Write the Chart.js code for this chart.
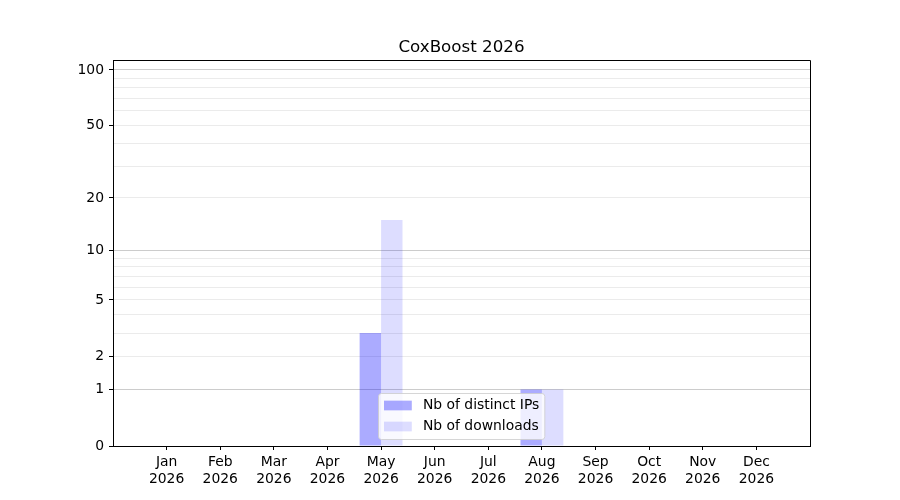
<!DOCTYPE html>
<html>
<head>
<meta charset="utf-8">
<script src="https://cdn.jsdelivr.net/npm/chart.js@4.4.1/dist/chart.umd.min.js"></script>
<style>
  html, body { margin: 0; padding: 0; background: #fff; }
  canvas { display: block; }
</style>
</head>
<body>
<canvas id="chart" width="900" height="500"></canvas>
<script>
// data
var months = ['Jan','Feb','Mar','Apr','May','Jun','Jul','Aug','Sep','Oct','Nov','Dec'];
var year = '2026';
var ips = [0,0,0,0,3,0,0,1,0,0,0,0];
var downloads = [0,0,0,0,15,0,0,1,0,0,0,0];
var yLabels = [0,1,2,5,10,20,50,100];
var yMinor = [3,4,6,7,8,9,30,40,60,70,80,90];
var yMajor = [1,10,100];
var yMax = 113;

var font = 'DejaVu Sans';

// y axis is log10(1 + v)
function f(v) { return Math.log10(1 + v); }

class Log1pScale extends Chart.LinearScale {
  buildTicks() {
    var all = yLabels.concat(yMinor).sort(function(a, b) { return a - b; });
    return all.map(function(v) { return { value: v }; });
  }
  configure() {
    super.configure();
    this._startValue = f(this.min);
    this._endValue = f(this.max);
    this._valueRange = this._endValue - this._startValue;
  }
  getPixelForValue(value) {
    if (value === null || isNaN(value)) return NaN;
    return this.getPixelForDecimal((f(value) - this._startValue) / this._valueRange);
  }
  getValueForPixel(pixel) {
    return Math.pow(10, this._startValue + this.getDecimalForPixel(pixel) * this._valueRange) - 1;
  }
}
Log1pScale.id = 'log1p';
Log1pScale.defaults = Chart.LinearScale.defaults;
Chart.register(Log1pScale);

// frame on top and right + legend inside the plot
var framePlugin = {
  id: 'frame',
  afterDraw: function(chart) {
    var ctx = chart.ctx, a = chart.chartArea;
    ctx.save();
    ctx.strokeStyle = '#000';
    ctx.lineWidth = 1;
    ctx.beginPath();
    ctx.moveTo(Math.round(a.left) + 0.5, Math.round(a.top) + 0.5);
    ctx.lineTo(Math.round(a.right) + 0.5, Math.round(a.top) + 0.5);
    ctx.lineTo(Math.round(a.right) + 0.5, Math.round(a.bottom) + 0.5);
    ctx.stroke();

    // legend
    var fs = 13.9;
    ctx.font = fs + 'px "' + font + '"';
    var sets = chart.data.datasets;
    var tw = 0;
    sets.forEach(function(d) { tw = Math.max(tw, ctx.measureText(d.label).width); });
    var pad = 5.5, hw = 27.8, hh = 9.7, gap = 11.1;
    var w = pad + hw + gap + tw + pad;
    var h = 46;
    var x0 = Math.round((a.left + a.right) / 2 - w / 2) + 0.5;
    var y0 = Math.round(a.bottom - 7 - h) + 0.5;
    ctx.beginPath();
    ctx.roundRect(x0, y0, w, h, 3);
    ctx.fillStyle = 'rgba(255,255,255,0.8)';
    ctx.fill();
    ctx.strokeStyle = 'rgba(204,204,204,0.8)';
    ctx.stroke();
    sets.forEach(function(d, i) {
      var cy = y0 + 12 + i * 21;
      ctx.fillStyle = d.backgroundColor;
      ctx.fillRect(x0 + pad, cy - hh / 2, hw, hh);
      ctx.fillStyle = '#000';
      ctx.textBaseline = 'middle';
      ctx.textAlign = 'left';
      ctx.fillText(d.label, x0 + pad + hw + gap, cy);
    });
    ctx.restore();
  }
};

new Chart(document.getElementById('chart'), {
  type: 'bar',
  data: {
    datasets: [
      {
        label: 'Nb of distinct IPs',
        data: ips.map(function(v, i) { return { x: i, y: v }; }),
        backgroundColor: 'rgba(0,0,255,0.33)',
        borderWidth: 0
      },
      {
        label: 'Nb of downloads',
        data: downloads.map(function(v, i) { return { x: i, y: v }; }),
        backgroundColor: 'rgba(0,0,255,0.135)',
        borderWidth: 0
      }
    ]
  },
  options: {
    responsive: false,
    animation: false,
    devicePixelRatio: 1,
    categoryPercentage: 0.8,
    barPercentage: 1.0,
    layout: { padding: { left: 53, right: 90, top: 0, bottom: 4 } },
    scales: {
      x: {
        type: 'linear',
        offset: false,
        min: -1,
        max: 12,
        afterBuildTicks: function(s) {
          s.ticks = months.map(function(m, i) { return { value: i }; });
        },
        afterFit: function(s) { s.height = 50; },
        ticks: {
          autoSkip: false,
          maxRotation: 0,
          color: '#000',
          padding: 4,
          font: { family: font, size: 13.9 },
          callback: function(v) { return [months[v], year]; }
        },
        grid: { drawOnChartArea: false, offset: false, tickLength: 4, tickColor: '#000' },
        border: { color: '#000', width: 1 }
      },
      y: {
        type: 'log1p',
        min: 0,
        max: yMax,
        afterFit: function(s) { s.width = 60; },
        ticks: {
          autoSkip: false,
          color: '#000',
          padding: 5,
          font: { family: font, size: 13.9 },
          callback: function(v) { return yLabels.indexOf(v) >= 0 ? String(v) : ''; }
        },
        grid: {
          tickLength: 4,
          lineWidth: 1,
          color: function(c) {
            var v = c.tick ? c.tick.value : null;
            if (v === 0) return 'rgba(0,0,0,0)';
            return yMajor.indexOf(v) >= 0 ? '#cccccc' : '#ebebeb';
          },
          tickColor: function(c) {
            var v = c.tick ? c.tick.value : null;
            return yLabels.indexOf(v) >= 0 ? '#000' : 'rgba(0,0,0,0)';
          }
        },
        border: { color: '#000', width: 1 }
      }
    },
    plugins: {
      legend: { display: false },
      tooltip: { enabled: false },
      title: {
        display: true,
        text: 'CoxBoost 2026',
        fullSize: false,
        color: '#000',
        font: { family: font, size: 16.7, weight: 'normal' },
        padding: { top: 38, bottom: 2 }
      }
    }
  },
  plugins: [framePlugin]
});
</script>
</body>
</html>
